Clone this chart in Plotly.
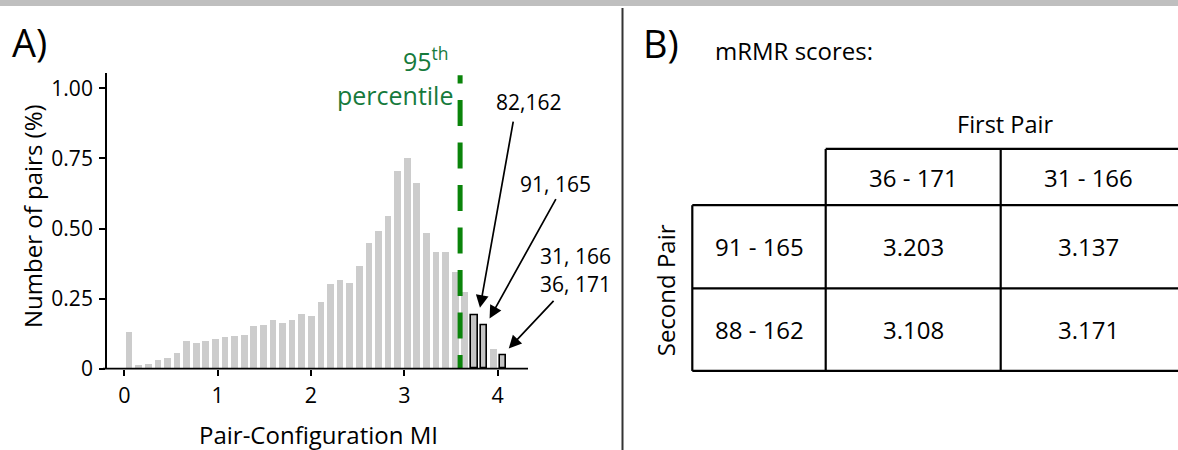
import numpy as np
import plotly.graph_objects as go

# ---------------- data ----------------
bin_width = 0.10276
n_bins = 40
heights = [0.128, 0.013, 0.016, 0.031, 0.038, 0.055, 0.098, 0.092, 0.098, 0.105,
           0.112, 0.115, 0.119, 0.152, 0.156, 0.174, 0.160, 0.174, 0.195, 0.188,
           0.235, 0.300, 0.314, 0.304, 0.365, 0.447, 0.490, 0.543, 0.705, 0.752,
           0.662, 0.482, 0.414, 0.414, 0.343, 0.271, 0.192, 0.154, 0.070, 0.047]
highlight_idx = [36, 37, 39]
highlight_labels = ["82,162", "91, 165", "31, 166<br>36, 171"]
percentile_95 = 3.598
x_ticks = [0, 1, 2, 3, 4]
y_ticks = [0, 0.25, 0.5, 0.75, 1.0]
y_ticklabels = ["0", "0.25", "0.50", "0.75", "1.00"]

first_pair = ["36 - 171", "31 - 166"]
second_pair = ["91 - 165", "88 - 162"]
scores = [[3.203, 3.137],
          [3.108, 3.171]]

# ---------------- helpers ----------------
W, H = 1178, 450          # reference pixel space
H_LAYOUT = 465            # layout height (compensates renderer's vertical squeeze)
FONT = "Open Sans"
GREEN_TXT = "#167a3c"
GREEN_LINE = "#0a840a"


def X(px):
    return px / W


def Y(py):
    return 1 - py / H


centers = (np.arange(n_bins) + 0.5) * bin_width
heights = np.array(heights)
normal = [i for i in range(n_bins) if i not in highlight_idx]

fig = go.Figure()
fig.add_trace(go.Bar(x=centers[normal], y=heights[normal], width=0.7 * bin_width,
                     marker=dict(color="#cccccc", line=dict(width=0)),
                     showlegend=False))
fig.add_trace(go.Bar(x=centers[highlight_idx], y=heights[highlight_idx],
                     width=0.7 * bin_width,
                     marker=dict(color="#c4c4c4", line=dict(color="black", width=1.6)),
                     showlegend=False))
# 95th percentile line
fig.add_trace(go.Scatter(x=[percentile_95, percentile_95], y=[-0.044, 1.047],
                         mode="lines",
                         line=dict(color=GREEN_LINE, width=5, dash="26px,16.5px"),
                         showlegend=False, hoverinfo="skip"))

x0px, x1px, xendpx = 107, 528, 615
y0px, y1px = 367, 73
px_per_x = 93.33
px_per_y = 279.0
xr = [(x0px - 124.3) / px_per_x, (xendpx - 124.3) / px_per_x]
yr = [0, (y0px - y1px) / px_per_y]

fig.update_layout(
    width=W, height=H_LAYOUT, margin=dict(l=0, r=0, t=0, b=0),
    paper_bgcolor="white", plot_bgcolor="white",
    bargap=0, barmode="overlay",
    font=dict(family=FONT, color="black", size=22),
    xaxis=dict(domain=[X(x0px), X(xendpx)], range=xr, showgrid=False, zeroline=False,
               showline=False,
               ticks="outside", ticklen=6, tickwidth=1.5, tickcolor="black",
               tickvals=x_ticks, tickfont=dict(size=21.5, family=FONT),
               ticklabelstandoff=2),
    yaxis=dict(domain=[Y(y0px), Y(y1px)], range=yr, showgrid=False, zeroline=False,
               showline=True, linecolor="black", linewidth=1.8,
               ticks="outside", ticklen=6, tickwidth=1.5, tickcolor="black",
               tickvals=y_ticks, ticktext=y_ticklabels,
               tickfont=dict(size=21, family=FONT), ticklabelstandoff=2),
)

shapes = []
# top grey band and divider
shapes.append(dict(type="rect", xref="paper", yref="paper", x0=0, x1=1, y0=Y(6), y1=1,
                   fillcolor="#bfbfbf", line=dict(width=0)))
shapes.append(dict(type="line", xref="paper", yref="paper", x0=X(622.5), x1=X(622.5),
                   y0=Y(8), y1=0, line=dict(color="#333333", width=2)))
# bottom spine
shapes.append(dict(type="line", xref="paper", yref="paper", x0=X(103), x1=X(x1px),
                   y0=Y(y0px), y1=Y(y0px), line=dict(color="black", width=1.8)))

# table grid
tl, tc1, tc2, tr = 692.3, 825.7, 1000.7, 1178
ty0, ty1, ty2, ty3 = 148.3, 204.3, 287.0, 369.3
LW = dict(color="black", width=2.2)
for yy, xa in [(ty0, tc1), (ty1, tl), (ty2, tl), (ty3, tl)]:
    shapes.append(dict(type="line", xref="paper", yref="paper", x0=X(xa), x1=X(tr),
                       y0=Y(yy), y1=Y(yy), line=LW))
for xx, ya in [(tl, ty1), (tc1, ty0), (tc2, ty0)]:
    shapes.append(dict(type="line", xref="paper", yref="paper", x0=X(xx), x1=X(xx),
                       y0=Y(ya), y1=Y(ty3), line=LW))
fig.update_layout(shapes=shapes)

ann = []


def txt(text, x, y, size=22, color="black", xanchor="center", yanchor="middle", angle=0):
    ann.append(dict(text=text, x=X(x), y=Y(y), xref="paper", yref="paper",
                    showarrow=False, xanchor=xanchor, yanchor=yanchor,
                    textangle=angle, font=dict(size=size, color=color, family=FONT)))


txt("A)", 10, 42, size=38, xanchor="left")
txt("B)", 641, 43, size=38, xanchor="left")
txt("mRMR scores:", 713, 50, size=24, xanchor="left")
txt("Number of pairs (%)", 33, 215, size=24, angle=-90)
txt("Pair-Configuration MI", 318, 433, size=24)
txt("95<sup>th</sup>", 451, 59, size=25, color=GREEN_TXT, xanchor="right")
txt("percentile", 455, 95, size=25, color=GREEN_TXT, xanchor="right")

# labels for highlighted bars
txt(highlight_labels[0], 528, 102, size=21)
txt(highlight_labels[1], 555, 183, size=21)
lbl3 = highlight_labels[2].split("<br>")
txt(lbl3[0], 575, 255, size=21)
txt(lbl3[1], 575, 283, size=21)

# arrows (tip at highlighted bar top, tail near labels)
tails = [(4.170, 0.887), (4.633, 0.610), (4.615, 0.247)]
for k, i in enumerate(highlight_idx):
    ann.append(dict(x=centers[i] + 0.06, y=heights[i] + 0.025, xref="x", yref="y",
                    ax=tails[k][0], ay=tails[k][1], axref="x", ayref="y",
                    text="", showarrow=True, arrowhead=2, arrowsize=1.5,
                    arrowwidth=1.7, arrowcolor="black", standoff=0, startstandoff=0))

# table text
txt("First Pair", 1005, 123, size=23.5)
txt("Second Pair", 665, 289, size=24, angle=-90)
col_c = [(tc1 + tc2) / 2, (tc2 + 1175.7) / 2]
row_c = [(ty1 + ty2) / 2, (ty2 + ty3) / 2]
for j, lab in enumerate(first_pair):
    txt(lab, col_c[j], (ty0 + ty1) / 2, size=24)
for r, lab in enumerate(second_pair):
    txt(lab, (tl + tc1) / 2, row_c[r], size=24)
    for j in range(2):
        txt(f"{scores[r][j]:.3f}", col_c[j], row_c[r], size=24)

fig.update_layout(annotations=ann)
fig.write_html("out.html")
